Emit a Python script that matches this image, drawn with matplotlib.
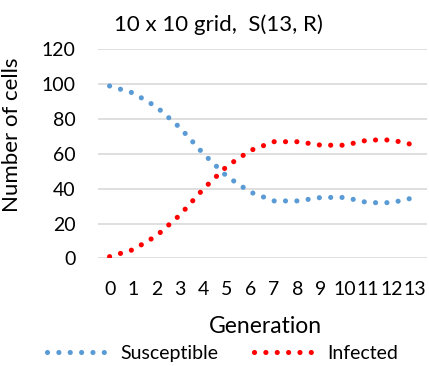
import matplotlib.pyplot as plt

# data
generations = list(range(14))
susceptible = [99, 95, 87, 75, 60, 47, 38, 33, 33, 35, 35, 32, 32, 35]
infected = [1, 5, 13, 25, 40, 53, 62, 67, 67, 65, 65, 68, 68, 65]
y_ticks = [0, 20, 40, 60, 80, 100, 120]

plt.rcParams['font.family'] = ['Lato', 'DejaVu Sans']

fig = plt.figure(figsize=(4.29, 3.66), dpi=100)
ax = fig.add_axes([0.228, 0.294, 0.767, 0.571])

dots = (0, (0.01, 2.2))
ax.plot(generations, susceptible, color='#5B9BD5', lw=3.7, linestyle=dots,
        dash_capstyle='round', label='Susceptible')
ax.plot(generations, infected, color='#FF0000', lw=3.7, linestyle=dots,
        dash_capstyle='round', label='Infected')

ax.set_xlim(-0.5, 13.5)
ax.set_ylim(0, 120)
ax.set_xticks(generations)
ax.set_yticks(y_ticks)
ax.tick_params(length=0, labelsize=14, colors='black')
ax.tick_params(axis='y', pad=16)
ax.tick_params(axis='x', pad=16.5)
ax.grid(axis='y', color='#d9d9d9', lw=1.2)
ax.set_axisbelow(True)
for s in ax.spines.values():
    s.set_visible(False)

ax.set_ylabel('Number of cells', fontsize=16)
ax.yaxis.set_label_coords(-0.231, 0.593)

fig.text(218 / 429, 1 - 31 / 366, '10 x 10 grid,  S(13, R)', fontsize=16,
         ha='center', va='baseline')
fig.text(265 / 429, 1 - 333 / 366, 'Generation', fontsize=16.5,
         ha='center', va='baseline')

fig.legend(loc='center', bbox_to_anchor=(222.5 / 429, 0.0355), ncol=2,
           frameon=False, fontsize=14, handlelength=3.3, handletextpad=0.5,
           columnspacing=1.8, borderpad=0)

fig.savefig('out.png', dpi=100)
